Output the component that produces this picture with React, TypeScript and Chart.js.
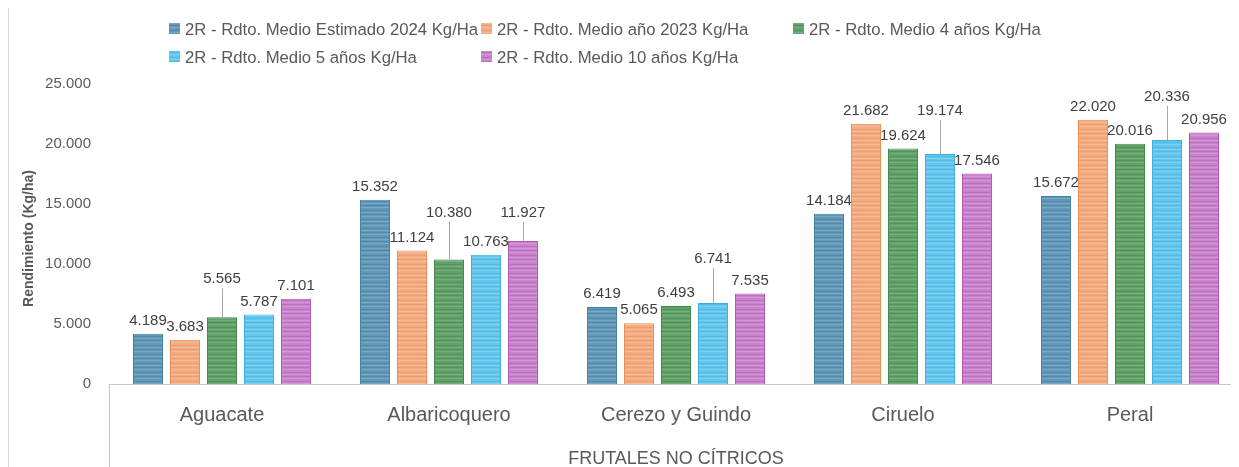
import React, { useEffect, useRef } from "react";
import { Chart, registerables } from "chart.js";

Chart.register(...registerables);

const categories = ["Aguacate", "Albaricoquero", "Cerezo y Guindo", "Ciruelo", "Peral"];
const seriesNames = [
  "2R - Rdto. Medio Estimado 2024 Kg/Ha",
  "2R - Rdto. Medio año 2023 Kg/Ha",
  "2R - Rdto. Medio 4 años Kg/Ha",
  "2R - Rdto. Medio 5 años Kg/Ha",
  "2R - Rdto. Medio 10 años Kg/Ha",
];
const estimado2024 = [4189, 15352, 6419, 14184, 15672];
const anio2023 = [3683, 11124, 5065, 21682, 22020];
const medio4 = [5565, 10380, 6493, 19624, 20016];
const medio5 = [5787, 10763, 6741, 19174, 20336];
const medio10 = [7101, 11927, 7535, 17546, 20956];
const yTicks = [0, 5000, 10000, 15000, 20000, 25000];
const xTitle = "FRUTALES NO CÍTRICOS";
const yTitle = "Rendimiento (Kg/ha)";

// label lift (px) for callouts with leader lines, per series / category
const labelLift = [
  [0, 0, 0, 0, 0],
  [0, 0, 0, 0, 0],
  [25, 34, 0, 0, 0],
  [0, 0, 31, 30, 30],
  [0, 15, 0, 0, 0],
];

const palette = [
  { base: "#6398b8", light: "#76a7c5", dark: "#5189ab", border: "#44809f" },
  { base: "#f3ab82", light: "#f6ba97", dark: "#ee9c6c", border: "#ec8d56" },
  { base: "#62a169", light: "#74ae7a", dark: "#51935a", border: "#41884a" },
  { base: "#66c5eb", light: "#7fcfef", dark: "#4fbbe6", border: "#3aaee1" },
  { base: "#c982cc", light: "#d396d6", dark: "#bd6ec1", border: "#b059b4" },
];

function makePattern(c: { base: string; light: string; dark: string }) {
  const pc = document.createElement("canvas");
  pc.width = 4;
  pc.height = 9;
  const g = pc.getContext("2d")!;
  const rows = [c.base, c.light, c.base, c.base, c.dark, c.base, c.light, c.base, c.dark];
  rows.forEach((col, i) => {
    g.fillStyle = col;
    g.fillRect(0, i, 4, 1);
  });
  return g.createPattern(pc, "repeat")!;
}

const fmt = (v: number) => v.toString().replace(/\B(?=(\d{3})+(?!\d))/g, ".");

export default function App() {
  const ref = useRef<HTMLCanvasElement>(null);
  useEffect(() => {
    const canvas = ref.current!;
    const allData = [estimado2024, anio2023, medio4, medio5, medio10];
    const patterns = palette.map(makePattern);
    const FONT = "'Liberation Sans', Arial, sans-serif";

    const customPlugin = {
      id: "custom",
      afterDraw(chart: any) {
        const ctx = chart.ctx as CanvasRenderingContext2D;
        const area = chart.chartArea;
        ctx.save();
        // left border
        ctx.strokeStyle = "#d9d9d9";
        ctx.lineWidth = 1;
        ctx.beginPath();
        ctx.moveTo(0.5, 0);
        ctx.lineTo(0.5, chart.height);
        ctx.stroke();
        // axis lines
        ctx.strokeStyle = "#c8c8c8";
        ctx.beginPath();
        ctx.moveTo(area.left, Math.round(area.bottom) + 0.5);
        ctx.lineTo(chart.width, Math.round(area.bottom) + 0.5);
        ctx.moveTo(Math.round(area.left) + 0.5, area.bottom);
        ctx.lineTo(Math.round(area.left) + 0.5, chart.height);
        ctx.stroke();

        // data labels
        ctx.font = `15px ${FONT}`;
        ctx.textAlign = "center";
        ctx.textBaseline = "middle";
        allData.forEach((_, di) => {
          const meta = chart.getDatasetMeta(di);
          meta.data.forEach((bar: any, i: number) => {
            const lift = labelLift[di][i];
            const cy = bar.y - 13 - lift;
            if (lift > 0) {
              ctx.strokeStyle = "#a6a6a6";
              ctx.lineWidth = 1;
              ctx.beginPath();
              ctx.moveTo(Math.round(bar.x) + 0.5, cy + 9);
              ctx.lineTo(Math.round(bar.x) + 0.5, bar.y);
              ctx.stroke();
            }
            ctx.fillStyle = "#404040";
            ctx.fillText(fmt(allData[di][i]), bar.x, cy);
          });
        });

        // category labels
        const xs = chart.scales.x;
        ctx.fillStyle = "#595959";
        ctx.font = `20px ${FONT}`;
        ctx.textBaseline = "alphabetic";
        categories.forEach((c, i) => {
          ctx.fillText(c, xs.getPixelForValue(i), 413);
        });
        // x title
        ctx.font = `18px ${FONT}`;
        ctx.fillText(xTitle, (area.left + area.right) / 2, 456);
        // y title
        ctx.save();
        ctx.translate(25, 230.5);
        ctx.rotate(-Math.PI / 2);
        ctx.font = `bold 14px ${FONT}`;
        ctx.textBaseline = "alphabetic";
        ctx.fillText(yTitle, 0, 0);
        ctx.restore();

        // legend
        const legendPos = [
          [161, 20.5],
          [473, 20.5],
          [785, 20.5],
          [161, 48.5],
          [473, 48.5],
        ];
        ctx.font = `16.7px ${FONT}`;
        ctx.textAlign = "left";
        seriesNames.forEach((n, i) => {
          const [lx, ly] = legendPos[i];
          ctx.fillStyle = patterns[i];
          ctx.fillRect(lx, ly - 5.5, 11, 11);
          ctx.fillStyle = "#595959";
          ctx.fillText(n, lx + 16, ly + 6);
        });
        ctx.restore();
      },
    };

    const chart = new Chart(canvas, {
      type: "bar",
      data: {
        labels: categories,
        datasets: allData.map((d, i) => ({
          label: seriesNames[i],
          data: d,
          backgroundColor: patterns[i],
          borderColor: palette[i].border,
          borderWidth: { left: 1, right: 1, top: 1, bottom: 0 },
          borderSkipped: "bottom",
          categoryPercentage: 0.815,
          barPercentage: 0.81,
        })),
      },
      options: {
        responsive: false,
        animation: false,
        layout: { padding: { top: 76, bottom: 83, left: 0, right: 4.5 } },
        plugins: { legend: { display: false }, tooltip: { enabled: false }, title: { display: false } },
        scales: {
          x: { display: false, offset: true },
          y: {
            min: 0,
            max: 25000,
            afterBuildTicks: (s: any) => {
              s.ticks = yTicks.map((v) => ({ value: v }));
            },
            afterFit: (s: any) => {
              s.width = 100.5;
            },
            grid: { display: false, drawTicks: false },
            border: { display: false },
            ticks: {
              padding: 17.5,
              color: "#595959",
              font: { size: 15, family: FONT },
              callback: (v: any) => fmt(Number(v)),
            },
          },
        },
      },
      plugins: [customPlugin],
    } as any);
    return () => chart.destroy();
  }, []);

  return (
    <div style={{ width: 1231, height: 459, overflow: "hidden", background: "#fff" }}>
      <canvas ref={ref} width={1240} height={459} style={{ display: "block" }} />
    </div>
  );
}
